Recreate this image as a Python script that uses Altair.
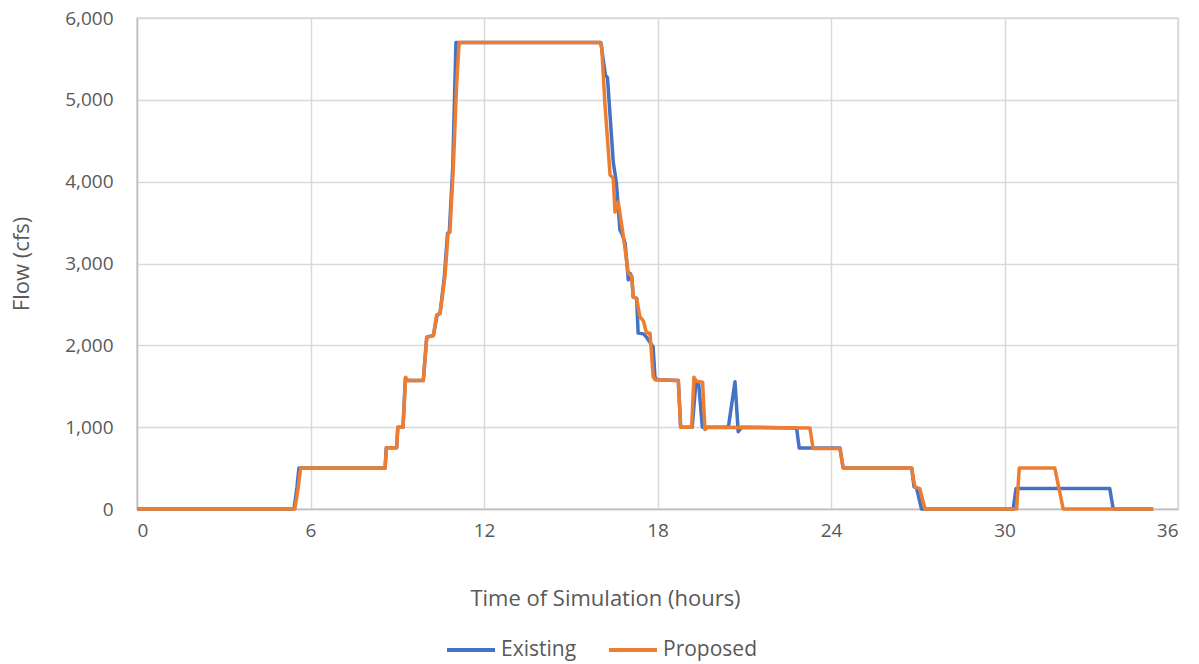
import altair as alt
import pandas as pd

# Proposed series (hours, cfs)
prop_t = [0, 5.46, 5.57, 5.66, 8.58, 8.63, 8.98, 9.02, 9.20, 9.29, 9.37, 9.90, 10.02, 10.25,
          10.36, 10.48, 10.65, 10.76, 10.82, 10.94, 11.05, 11.14, 16.01, 16.07, 16.18, 16.36,
          16.47, 16.53, 16.64, 16.70, 16.82, 16.93, 16.99, 17.11, 17.16, 17.28, 17.39, 17.51,
          17.62, 17.74, 17.85, 17.91, 18.72, 18.80, 19.18, 19.26, 19.35, 19.56, 19.64, 19.75,
          23.27, 23.38, 24.31, 24.42, 26.79, 26.90, 27.07, 27.25, 30.42, 30.51, 31.74, 32.03, 35.14]
prop_v = [0, 0, 250, 500, 500, 750, 750, 1000, 1000, 1610, 1570, 1570, 2100, 2120,
          2370, 2390, 2840, 3370, 3380, 4180, 5160, 5700, 5700, 5650, 4960, 4080,
          4040, 3630, 3750, 3620, 3330, 3040, 2880, 2840, 2590, 2575, 2350, 2300,
          2150, 2150, 1617, 1580, 1570, 1000, 1000, 1610, 1560, 1550, 970, 1000,
          990, 740, 740, 500, 500, 270, 250, 0, 0, 500, 500, 0, 0]

# Existing series (hours, cfs)
exist_t = [0, 5.43, 5.53, 5.60, 8.58, 8.62, 8.98, 9.02, 9.20, 9.28, 9.36, 9.90, 10.02, 10.25,
           10.38, 10.48, 10.63, 10.74, 10.80, 10.92, 11.03, 16.04, 16.20, 16.27, 16.47, 16.58,
           16.70, 16.76, 16.88, 16.99, 17.05, 17.11, 17.16, 17.28, 17.33, 17.51, 17.62, 17.85,
           17.91, 17.97, 18.72, 18.80, 19.20, 19.33, 19.42, 19.55, 20.45, 20.68, 20.79, 20.91,
           22.81, 22.90, 24.31, 24.42, 26.79, 26.87, 26.96, 27.13, 30.30, 30.40, 33.64, 33.76, 35.14]
exist_v = [0, 0, 260, 500, 500, 750, 750, 1000, 1000, 1600, 1570, 1570, 2100, 2120,
           2370, 2390, 2840, 3370, 3380, 4180, 5700, 5700, 5300, 5270, 4240, 3980,
           3410, 3370, 3250, 2800, 2880, 2840, 2590, 2575, 2150, 2140, 2100, 1980,
           1617, 1580, 1570, 1000, 1000, 1550, 1550, 1000, 1000, 1556, 945, 1000,
           990, 745, 745, 500, 500, 273, 256, 0, 0, 250, 250, 0, 0]

series_names = ["Existing", "Proposed"]
series_colors = ["#4472C4", "#ED7D31"]

df = pd.concat([
    pd.DataFrame({"t": exist_t, "v": exist_v, "series": "Existing", "order": range(len(exist_t))}),
    pd.DataFrame({"t": prop_t, "v": prop_v, "series": "Proposed", "order": range(len(prop_t))}),
])

FONT = "Open Sans"

chart = alt.Chart(df).mark_line(strokeWidth=3.5, strokeJoin="round").encode(
    x=alt.X("t:Q", scale=alt.Scale(domain=[0, 36], nice=False),
            axis=alt.Axis(values=[0, 6, 12, 18, 24, 30, 36], title="Time of Simulation (hours)",
                          grid=True, ticks=False, labelPadding=12, titlePadding=48,
                          titleX=468, titleAnchor="start", titleAlign="center",
                          domainColor="#BFBFBF", domainWidth=1.5)),
    y=alt.Y("v:Q", scale=alt.Scale(domain=[0, 6000], nice=False),
            axis=alt.Axis(values=[0, 1000, 2000, 3000, 4000, 5000, 6000], format=",.0f",
                          title="Flow (cfs)", grid=True, ticks=False, labelPadding=24,
                          titlePadding=31, domainColor="#BFBFBF", domainWidth=1.5)),
    color=alt.Color("series:N", scale=alt.Scale(domain=series_names, range=series_colors),
                    legend=alt.Legend(title=None, orient="none", direction="horizontal",
                                      legendX=308, legendY=606, symbolType="stroke",
                                      symbolSize=2300, symbolStrokeWidth=4,
                                      labelFontSize=21, labelFont=FONT, labelColor="#595959",
                                      columnPadding=24, labelOffset=4)),
    detail="series:N",
    order="order:Q",
).properties(
    width=1041, height=491,
    autosize=alt.AutoSizeParams(type="none"),
    padding={"left": 129, "top": 10, "right": 13, "bottom": 155},
).configure_axis(
    labelFont=FONT, titleFont=FONT, labelFontSize=19, titleFontSize=22,
    labelColor="#595959", titleColor="#595959", titleFontWeight="normal",
    gridColor="#D9D9D9", gridWidth=1.5,
).configure_view(stroke="#D9D9D9", strokeWidth=1.5)

chart.save("out.html", embed_options={"renderer": "svg", "actions": False})
